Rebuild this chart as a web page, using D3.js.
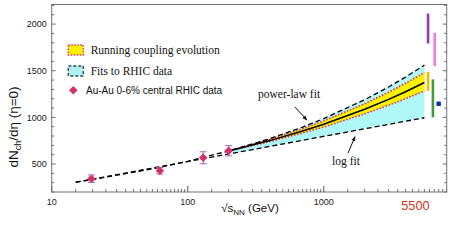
<!DOCTYPE html>
<html>
<head>
<meta charset="utf-8">
<script src="https://cdn.jsdelivr.net/npm/d3@7"></script>
<style>
  body { margin: 0; background: #fff; }
  text { font-family: "Liberation Sans", Arial, sans-serif; }
  .serif { font-family: "Liberation Serif", "Times New Roman", serif; }
</style>
</head>
<body>
<div id="chart"></div>
<script>
// Au-Au central data (PHOBOS / RHIC)
var dataEnergy = [19.6, 62.4, 130, 200];
var dataMult   = [343, 428, 567, 642];
var dataErr    = [40, 35, 64, 55];

// log fit (straight line in log sqrt(s))
var logFitEnergy = [15, 5500];
var logFitMult   = [304, 996];

// power-law fit
var powerEnergy = [15, 20, 30, 50, 100, 200, 400, 700, 1000, 2000, 3000, 4000, 5500];
var powerMult   = [305, 335, 380, 437, 528, 640, 771, 896, 987, 1189, 1326, 1433, 1560];

// fits to RHIC data band (between log fit and power law)
var bandEnergy = [200, 400, 700, 1000, 2000, 3000, 4000, 5500];
var bandLow    = [608, 689, 755, 797, 879, 926, 960, 996];
var bandHigh   = [640, 771, 896, 987, 1189, 1326, 1433, 1560];

// running coupling evolution
var runMid  = [640, 751, 854, 927, 1087, 1193, 1275, 1374];
var runLow  = [640, 740, 833, 897, 1038, 1130, 1201, 1283];
var runHigh = [640, 763, 879, 962, 1146, 1270, 1366, 1480];

// other LHC predictions at 5500 GeV
var predEnergy = [5850, 6550, 5850, 6350];
var predLow    = [1792, 1549, 1285, 1000];
var predHigh   = [2113, 1906, 1488, 1407];
var predColor  = ["#8e3cb0", "#f27ad6", "#f5b800", "#3c9c3c"];
var pointPred  = {energy: 7000, mult: 1146};

var yTicks = [500, 1000, 1500, 2000];
var xTicks = [10, 100, 1000];

var margin = {top: 4.5, right: 6.3, bottom: 53, left: 51.7},
    width = 453 - margin.left - margin.right,
    height = 245 - margin.top - margin.bottom;

var svg = d3.select("#chart").append("svg")
    .attr("width", 453).attr("height", 245)
  .append("g")
    .attr("transform", "translate(" + margin.left + "," + margin.top + ")");

var x = d3.scaleLog().domain([10, 8020]).range([0, width]);
var y = d3.scaleLinear().domain([200, 2210]).range([height, 0]);

// minor ticks
var xMinor = [];
[10, 100, 1000].forEach(function(d) {
  for (var k = 1.5; k < 10; k += 0.5) { if (d * k < 8020) xMinor.push(d * k); }
});
var yMinor = d3.range(200, 2201, 100);

var axisColor = "#707070";

// bands
var areaGen = d3.area()
  .x(function(d) { return x(d.e); })
  .y0(function(d) { return y(d.lo); })
  .y1(function(d) { return y(d.hi); });

var band = bandEnergy.map(function(e, i) { return {e: e, lo: bandLow[i], hi: bandHigh[i]}; });
svg.append("path").datum(band).attr("d", areaGen).attr("fill", "#b0f7f7");

var run = bandEnergy.map(function(e, i) { return {e: e, lo: runLow[i], hi: runHigh[i], mid: runMid[i]}; });
svg.append("path").datum(run).attr("d", areaGen).attr("fill", "#fbf200");

var line = d3.line().x(function(d) { return x(d[0]); }).y(function(d) { return y(d[1]); });

function pairs(xs, ys) { return xs.map(function(e, i) { return [e, ys[i]]; }); }

svg.append("path").datum(pairs(bandEnergy, runHigh)).attr("d", line)
  .attr("fill", "none").attr("stroke", "#e0306a").attr("stroke-width", 1.6).attr("stroke-dasharray", "1.6,1.6");
svg.append("path").datum(pairs(bandEnergy, runLow)).attr("d", line)
  .attr("fill", "none").attr("stroke", "#e0306a").attr("stroke-width", 1.6).attr("stroke-dasharray", "1.6,1.6");
svg.append("path").datum(pairs(bandEnergy, runMid)).attr("d", line)
  .attr("fill", "none").attr("stroke", "#000").attr("stroke-width", 1.5);

// fits
svg.append("path").datum(pairs(logFitEnergy, logFitMult)).attr("d", line)
  .attr("fill", "none").attr("stroke", "#000").attr("stroke-width", 1.3).attr("stroke-dasharray", "5,3");
svg.append("path").datum(pairs(powerEnergy, powerMult)).attr("d", line)
  .attr("fill", "none").attr("stroke", "#000").attr("stroke-width", 1.3).attr("stroke-dasharray", "5,3");

// data points with error bars
var pts = dataEnergy.map(function(e, i) { return {e: e, v: dataMult[i], err: dataErr[i]}; });
var errG = svg.selectAll(".err").data(pts).enter().append("g").attr("class", "err")
  .attr("stroke", "#b060c0").attr("stroke-width", 1);
errG.append("line")
  .attr("x1", function(d) { return x(d.e); }).attr("x2", function(d) { return x(d.e); })
  .attr("y1", function(d) { return y(d.v - d.err); }).attr("y2", function(d) { return y(d.v + d.err); });
errG.append("line")
  .attr("x1", function(d) { return x(d.e) - 3.5; }).attr("x2", function(d) { return x(d.e) + 3.5; })
  .attr("y1", function(d) { return y(d.v - d.err); }).attr("y2", function(d) { return y(d.v - d.err); });
errG.append("line")
  .attr("x1", function(d) { return x(d.e) - 3.5; }).attr("x2", function(d) { return x(d.e) + 3.5; })
  .attr("y1", function(d) { return y(d.v + d.err); }).attr("y2", function(d) { return y(d.v + d.err); });

var diamond = d3.symbol().type(d3.symbolSquare).size(36);
svg.selectAll(".pt").data(pts).enter().append("path").attr("class", "pt")
  .attr("d", diamond)
  .attr("transform", function(d) { return "translate(" + x(d.e) + "," + y(d.v) + ") rotate(45)"; })
  .attr("fill", "#d4306a");

// LHC predictions on the right
svg.selectAll(".pred").data(predEnergy).enter().append("line").attr("class", "pred")
  .attr("x1", function(d) { return x(d); }).attr("x2", function(d) { return x(d); })
  .attr("y1", function(d, i) { return y(predLow[i]); })
  .attr("y2", function(d, i) { return y(predHigh[i]); })
  .attr("stroke", function(d, i) { return predColor[i]; })
  .attr("stroke-width", 2.6);
svg.append("rect")
  .attr("x", x(pointPred.energy) - 2.2).attr("y", y(pointPred.mult) - 2.2)
  .attr("width", 4.4).attr("height", 4.4).attr("fill", "#0b2fb0");

// frame
svg.append("rect").attr("x", 0).attr("y", 0).attr("width", width).attr("height", height)
  .attr("fill", "none").attr("stroke", axisColor).attr("stroke-width", 1);

// y ticks (left and right, pointing inward)
yMinor.forEach(function(v) {
  var len = (v % 500 === 0) ? 4 : 2.5;
  svg.append("line").attr("x1", 0).attr("x2", len).attr("y1", y(v)).attr("y2", y(v))
    .attr("stroke", axisColor);
  svg.append("line").attr("x1", width).attr("x2", width - len).attr("y1", y(v)).attr("y2", y(v))
    .attr("stroke", axisColor);
});
svg.selectAll(".ylab").data(yTicks).enter().append("text")
  .attr("x", -5).attr("y", function(d) { return y(d); }).attr("dy", "0.35em")
  .attr("text-anchor", "end").attr("font-size", 9).attr("fill", "#222")
  .text(function(d) { return d; });

// x ticks (bottom, pointing up)
xMinor.forEach(function(e) {
  svg.append("line").attr("x1", x(e)).attr("x2", x(e)).attr("y1", height).attr("y2", height - 3)
    .attr("stroke", axisColor);
});
xTicks.forEach(function(e) {
  svg.append("line").attr("x1", x(e)).attr("x2", x(e)).attr("y1", height).attr("y2", height - 6)
    .attr("stroke", axisColor).attr("stroke-width", 1.2);
});
svg.selectAll(".xlab").data(xTicks).enter().append("text")
  .attr("x", function(d) { return x(d); }).attr("y", height + 13)
  .attr("text-anchor", "middle").attr("font-size", 9).attr("fill", "#222")
  .text(function(d) { return d; });

svg.append("text").attr("x", x(5500) - 9).attr("y", height + 18)
  .attr("text-anchor", "middle").attr("font-size", 12.7).attr("fill", "#cc3322")
  .text("5500");

// axis titles
var xt = svg.append("text").attr("x", 250 - margin.left).attr("y", height + 20)
  .attr("text-anchor", "middle").attr("font-size", 11.5).attr("fill", "#111");
xt.append("tspan").text("\u221As");
xt.append("tspan").attr("font-size", 8).attr("dy", 3).text("NN");
xt.append("tspan").attr("dy", -3).text(" (GeV)");

var yt = svg.append("text")
  .attr("transform", "translate(" + (-margin.left + 17.5) + "," + (127 - margin.top) + ") rotate(-90)")
  .attr("text-anchor", "middle").attr("font-size", 13.5).attr("fill", "#111");
yt.append("tspan").text("dN");
yt.append("tspan").attr("font-size", 9).attr("dy", 3).text("ch");
yt.append("tspan").attr("dy", -3).text("/d\u03B7 (\u03B7=0)");

// annotations
var arrowDefs = svg.append("defs");
arrowDefs.append("marker").attr("id", "arr").attr("viewBox", "0 0 10 10")
  .attr("refX", 9).attr("refY", 5).attr("markerWidth", 5).attr("markerHeight", 5)
  .attr("orient", "auto")
  .append("path").attr("d", "M0,1 L10,5 L0,9 z").attr("fill", "#111");

svg.append("text").attr("class", "serif").attr("x", x(329)).attr("y", y(1212))
  .attr("font-size", 11.5).attr("fill", "#111").text("power-law fit");
svg.append("line").attr("x1", x(615)).attr("y1", y(1110)).attr("x2", x(753)).attr("y2", y(971))
  .attr("stroke", "#111").attr("stroke-width", 1).attr("marker-end", "url(#arr)");

svg.append("text").attr("class", "serif").attr("x", x(1459)).attr("y", y(489))
  .attr("text-anchor", "middle").attr("font-size", 11.5).attr("fill", "#111").text("log fit");
svg.append("line").attr("x1", x(1510)).attr("y1", y(618)).attr("x2", x(1698)).attr("y2", y(794))
  .attr("stroke", "#111").attr("stroke-width", 1).attr("marker-end", "url(#arr)");

// legend
var lg = svg.append("g").attr("transform", "translate(" + (68.3 - margin.left) + "," + (45 - margin.top) + ")");
lg.append("rect").attr("x", 0).attr("y", 0).attr("width", 15).attr("height", 10)
  .attr("fill", "#fbf200").attr("stroke", "#e0306a").attr("stroke-width", 1.4).attr("stroke-dasharray", "1.5,1.5");
lg.append("text").attr("class", "serif").attr("x", 22.4).attr("y", 5).attr("dy", "0.35em")
  .attr("font-size", 11.5).attr("fill", "#111").text("Running coupling evolution");
lg.append("rect").attr("x", 0).attr("y", 21).attr("width", 15).attr("height", 10)
  .attr("fill", "#b0f0f0").attr("stroke", "#2a4a50").attr("stroke-width", 1.4).attr("stroke-dasharray", "3,2");
lg.append("text").attr("class", "serif").attr("x", 22.4).attr("y", 26).attr("dy", "0.35em")
  .attr("font-size", 11.5).attr("fill", "#111").text("Fits to RHIC data");
lg.append("path").attr("d", diamond)
  .attr("transform", "translate(5,45.3) rotate(45)").attr("fill", "#d4306a");
lg.append("text").attr("x", 17.7).attr("y", 45.3).attr("dy", "0.35em")
  .attr("font-size", 10).attr("fill", "#111").text("Au-Au 0-6% central RHIC data");
</script>
</body>
</html>
